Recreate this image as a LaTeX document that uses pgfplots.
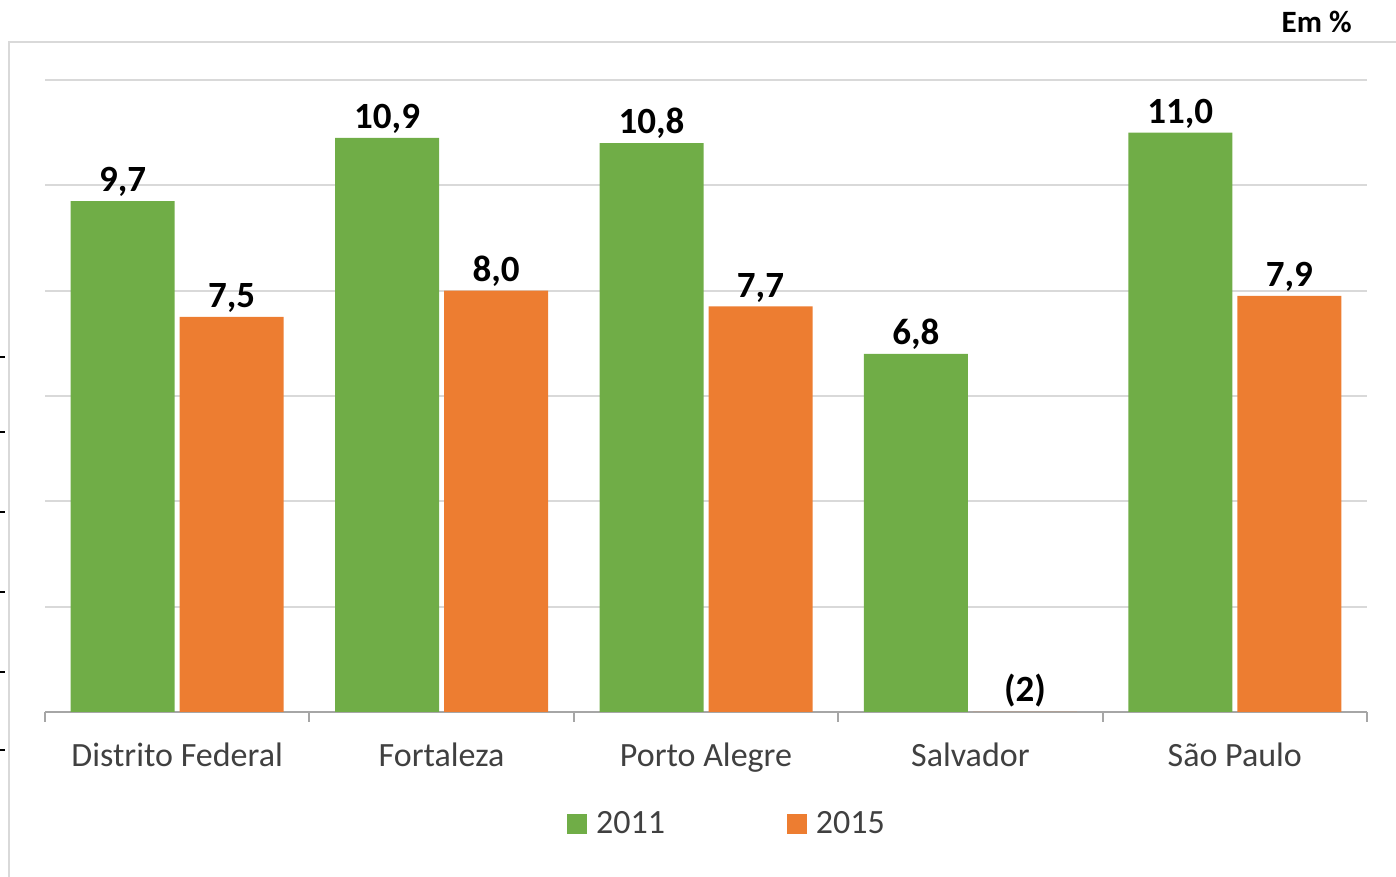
\documentclass[border=0pt]{standalone}
\usepackage{pgfplots}
\pgfplotsset{compat=1.18}
\usepackage{pgfplotstable}
\usepackage{fontspec}
\setmainfont{Carlito}
\definecolor{cgreen}{HTML}{70AD47}
\definecolor{corange}{HTML}{ED7D31}
\definecolor{ctext}{HTML}{404040}
\definecolor{cgrid}{HTML}{D9D9D9}
\definecolor{caxis}{HTML}{A6A6A6}
\pgfplotstableread{
x y l
0 9.7 9,7
1 10.9 10,9
2 10.8 10,8
3 6.8 6,8
4 11.0 11,0
}\dataA
\pgfplotstableread{
x y l
0 7.5 7,5
1 8.0 8,0
2 7.7 7,7
3 0 (2)
4 7.9 7,9
}\dataB
\begin{document}
\begin{tikzpicture}
\useasboundingbox (0,0) rectangle (698pt,438.5pt);
\begin{scope}[x=0.5pt,y=-0.5pt,shift={(0pt,438.5pt)}]
% outer frame
\draw[cgrid, line width=1pt] (8.5,877) -- (8.5,42.5) -- (1396,42.5);
% artifacts from neighbouring chart
\foreach \yy in {357,432,512,592,672,750}{\draw[black, line width=1pt] (0,\yy) -- (5,\yy);}
\node[anchor=east, font=\bfseries\fontsize{15.5}{17}\selectfont, inner sep=0pt] at (1352,22) {Em \%};
\end{scope}
\begin{axis}[
  at={(22.5pt,82.5pt)}, anchor=south west,
  scale only axis, width=661pt, height=316pt,
  xmin=-0.5, xmax=4.5, ymin=0, ymax=12,
  clip=false,
  axis x line*=bottom, axis y line*=left,
  y axis line style={draw=none},
  x axis line style={draw=caxis, line width=1pt, -},
  ytick={0,2,...,12}, yticklabels={}, ytick style={draw=none},
  ymajorgrids, grid style={draw=cgrid, line width=1pt},
  xtick={0,1,2,3,4},
  xticklabels={Distrito Federal, Fortaleza, Porto Alegre, Salvador, São Paulo},
  major tick length=0pt,
  minor xtick={-0.5,0.5,...,4.5},
  minor tick length=5pt, tick align=outside,
  minor tick style={draw=caxis, line width=1pt},
  xticklabel style={font=\fontsize{17}{19}\selectfont, text=ctext, anchor=north, yshift=-12pt},
  ybar=2.5pt, bar width=52pt,
  point meta=explicit symbolic,
  nodes near coords,
  every node near coord/.append style={font=\bfseries\fontsize{18.5}{20}\selectfont, text=black, anchor=south, inner sep=2pt},
  legend style={at={(0.3949,-0.177)}, anchor=west, draw=none, fill=none, legend columns=2,
    inner sep=0pt, outer sep=0pt,
    font=\fontsize{17}{19}\selectfont, text=ctext,
    /tikz/every even column/.append style={column sep=59pt},
    /tikz/every odd column/.append style={column sep=2.5pt}},
  legend image code/.code={\fill[#1] (0pt,-5pt) rectangle (10pt,5pt);},
]
\addplot[fill=cgreen, draw=none] table[x=x, y=y, meta=l] {\dataA};
\addplot[fill=corange, draw=none] table[x=x, y=y, meta=l] {\dataB};
\legend{2011,2015}
\end{axis}
\end{tikzpicture}
\end{document}
